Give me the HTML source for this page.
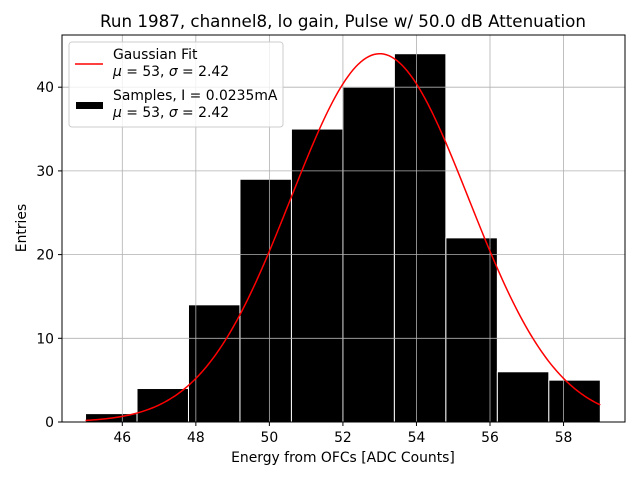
<!DOCTYPE html>
<html><head><meta charset="utf-8"><style>
body{margin:0;background:#fff}
svg{font-family:"DejaVu Sans","Liberation Sans",sans-serif}
</style></head><body>
<svg id="c" width="640" height="480" xmlns="http://www.w3.org/2000/svg">
<rect width="640" height="480" fill="#fff"/>
<text x="343" y="27" font-size="16.7" text-anchor="middle">Run 1987, channel8, lo gain, Pulse w/ 50.0 dB Attenuation</text>
<g id="bars"></g>
<g id="grid"></g>
<g id="fit"></g>
<rect x="62" y="35" width="563" height="387" fill="none" stroke="#000" stroke-width="1"/>
<g id="ticks" font-size="13.9"></g>
<text x="343" y="462" font-size="13.9" text-anchor="middle">Energy from OFCs [ADC Counts]</text>
<text x="26" y="228" font-size="13.9" text-anchor="middle" transform="rotate(-90 26 228)">Entries</text>
<g>
<rect x="69" y="42" width="214" height="85" rx="3" fill="#fff" fill-opacity="0.8" stroke="#ccc"/>
<line x1="75" y1="64" x2="103" y2="64" stroke="red" stroke-width="1.5"/>
<text x="113" y="59" font-size="13.9">Gaussian Fit</text>
<text x="113" y="76" font-size="13.9"><tspan font-style="italic">μ</tspan> = 53, <tspan font-style="italic">σ</tspan> = 2.42</text>
<rect x="76" y="102" width="27" height="7" fill="#000"/>
<text x="113" y="100" font-size="13.9">Samples, I = 0.0235mA</text>
<text x="113" y="117" font-size="13.9"><tspan font-style="italic">μ</tspan> = 53, <tspan font-style="italic">σ</tspan> = 2.42</text>
</g>
</svg>
<script>
const binEdges=[45,46.4,47.8,49.2,50.6,52,53.4,54.8,56.2,57.6,59];
const counts=[1,4,14,29,35,40,44,22,6,5];
const xTicks=[46,48,50,52,54,56,58];
const yTicks=[0,10,20,30,40];
const fitMu=53, fitSigma=2.42, fitAmp=44;
const NS="http://www.w3.org/2000/svg";
const x=v=>122.3+36.77*(v-46);
const y=v=>422-8.37*v;
function mk(tag,attrs,parent){const e=document.createElementNS(NS,tag);for(const k in attrs)e.setAttribute(k,attrs[k]);document.getElementById(parent).appendChild(e);return e;}
xTicks.forEach(t=>{
 const g=mk('line',{x1:x(t),x2:x(t),y1:35,y2:422,stroke:'#b0b0b0','stroke-width':0.8},'grid');
 
 
 const tk=mk('line',{x1:x(t),x2:x(t),y1:422,y2:426,stroke:'#000'},'ticks');
 
 
 const tx=mk('text',{x:x(t),y:442,'text-anchor':'middle'},'ticks');tx.textContent=t;
 
 
});
yTicks.forEach(t=>{
 const g=mk('line',{x1:62,x2:625,y1:y(t),y2:y(t),stroke:'#b0b0b0','stroke-width':0.8},'grid');
 
 
 const tk=mk('line',{x1:58,x2:62,y1:y(t),y2:y(t),stroke:'#000'},'ticks');
 
 
 const tx=mk('text',{x:54,y:y(t)+5,'text-anchor':'end'},'ticks');tx.textContent=t;
 
 
});
counts.forEach((c,i)=>{
 const x0=x(binEdges[i]),x1=x(binEdges[i+1]);
 const r=mk('rect',{x:x0,y:y(c),width:x1-x0,height:y(0)-y(c),fill:'#000',stroke:'#fff','stroke-width':1},'bars');
 
 
});
let d='';
const lo=binEdges[0],hi=binEdges[binEdges.length-1];
for(let i=0;i<=200;i++){const v=lo+(hi-lo)*i/200;const f=fitAmp*Math.exp(-Math.pow(v-fitMu,2)/(2*fitSigma*fitSigma));d+=(i?'L':'M')+x(v).toFixed(2)+','+y(f).toFixed(2);}
const p=mk('path',{d:d,fill:'none',stroke:'red','stroke-width':1.5},'fit');


</script>
</body></html>
